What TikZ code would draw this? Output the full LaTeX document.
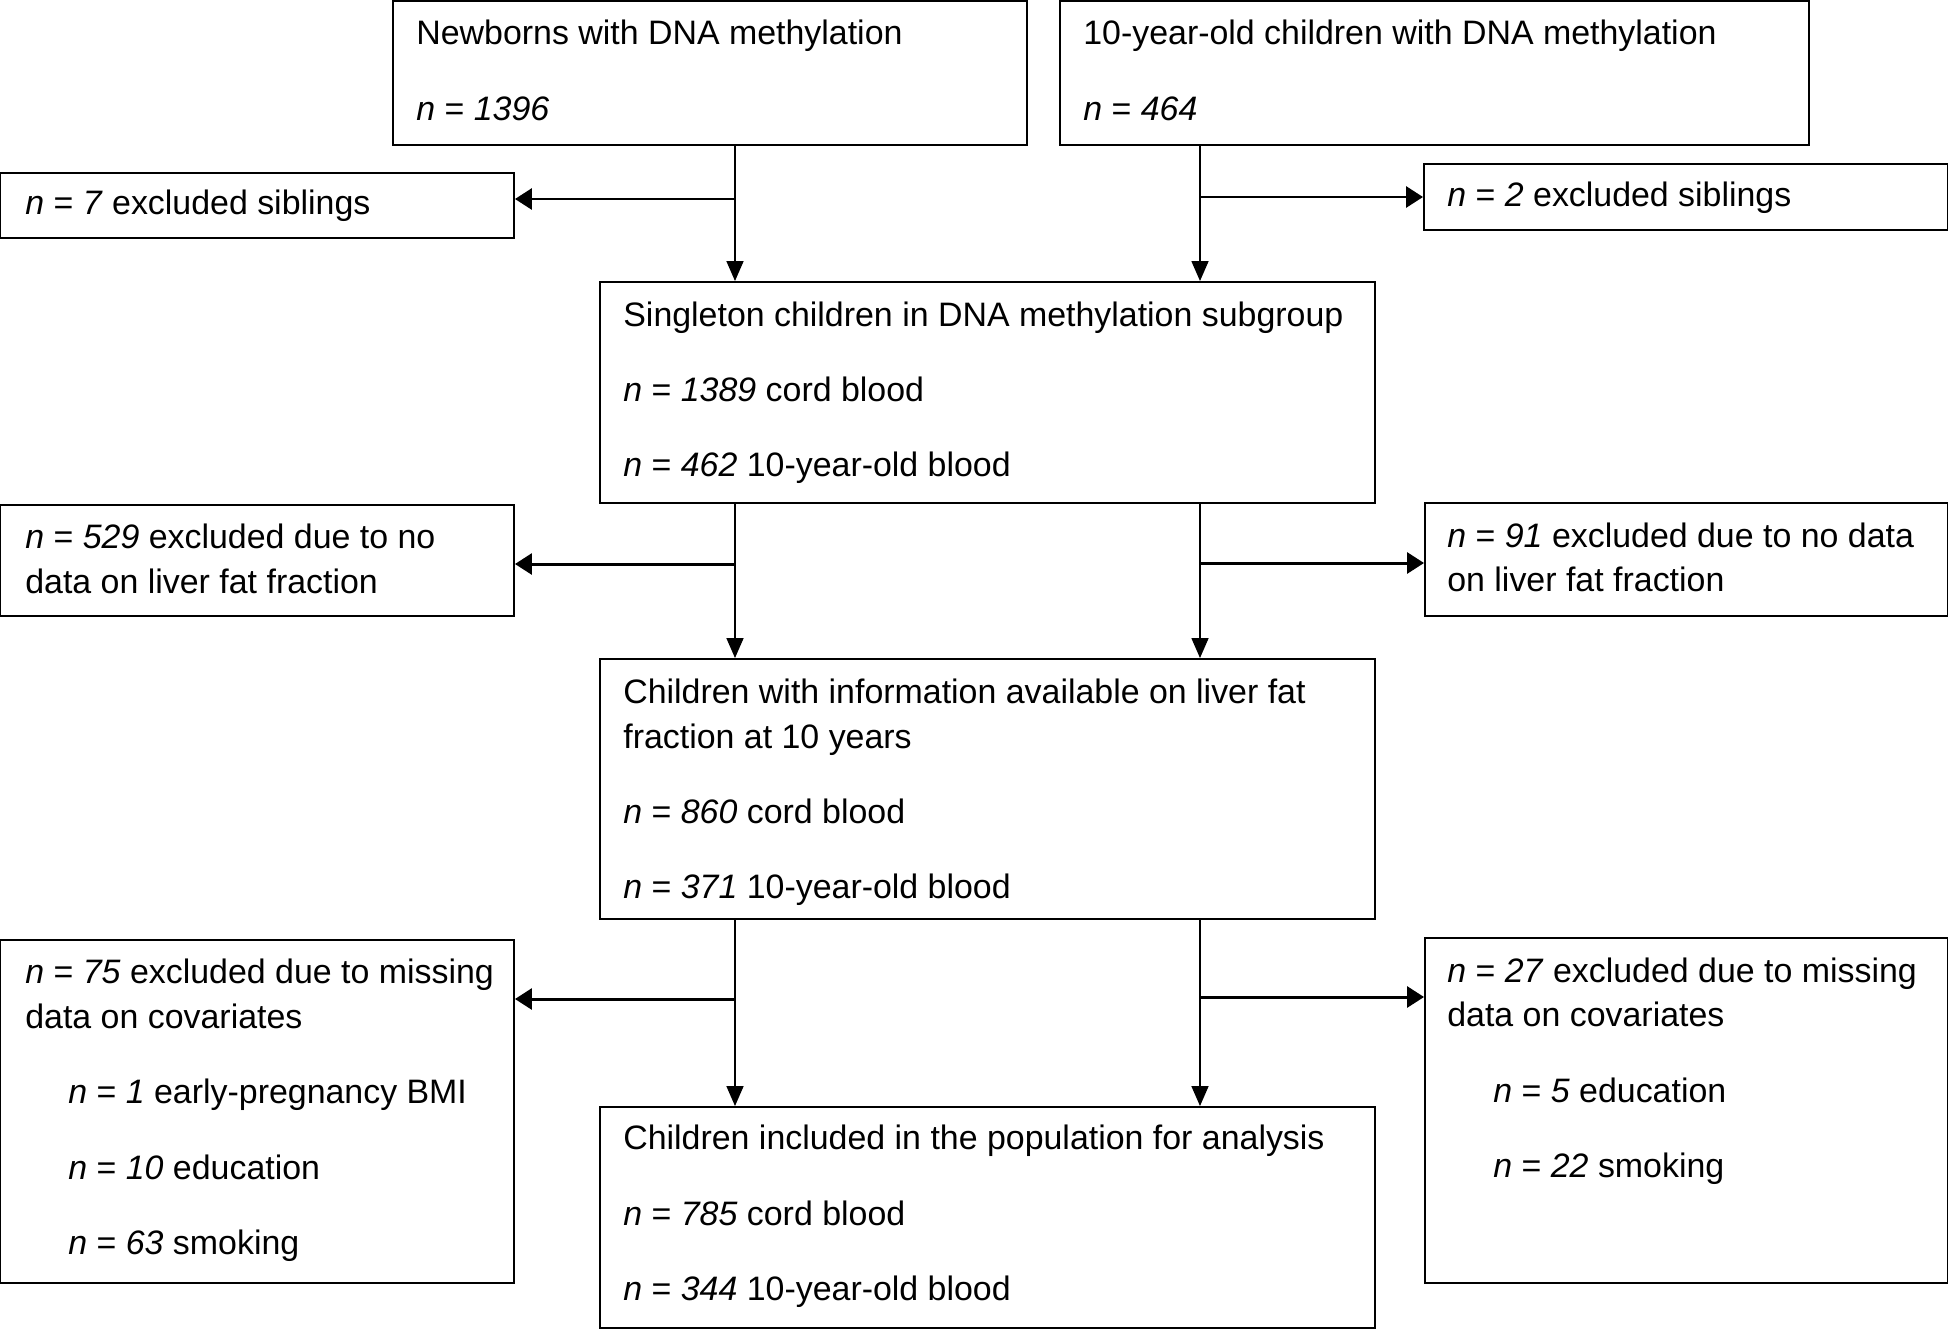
\documentclass[tikz,border=0pt]{standalone}
\usepackage{fontspec}
\setmainfont{Liberation Sans}
\usetikzlibrary{fit,arrows.meta}

\begin{document}
\begin{tikzpicture}
[x=0.02cm,y=-0.02cm,
  boxDecorate/.style={draw,line width=1.1pt,inner sep=0pt},%
  textDecorate/.style={anchor=base west,inner sep=0pt,font=\fontsize{19.3}{23}\selectfont},%
  downDecorate/.style={line width=0.9pt,-{Triangle[length=0.4cm,width=0.34cm]}},%
  sideDecorate/.style={line width=1.7pt,-{Triangle[length=0.34cm,width=0.42cm]}}]
\useasboundingbox (0,0) rectangle (1948,1329);
%% boxes
\foreach \boxname/\xa/\ya/\xb/\yb in {newborn/393/1/1027/145, tenyear/1060/1/1809/145,
  sibL/0/173/514/238, sibR/1424/164/1948/230, single/600/282/1375/503,
  liverL/0/505/514/616, liverR/1425/503/1948/616, info/600/659/1375/919,
  covL/0/940/514/1283, covR/1425/938/1948/1283, final/600/1107/1375/1328} {
  \node (\boxname) [boxDecorate,fit={(\xa,\ya) (\xb,\yb)}] {};
}
%% texts
\foreach \textname/\x/\y/\txt in {
  newbornTitle/416/44/Newborns with DNA methylation,
  newbornN/416/120/\textit{n} = \textit{1396},
  tenyearTitle/1083/44/10-year-old children with DNA methylation,
  tenyearN/1083/120/\textit{n} = \textit{464},
  sibLText/25/214/\textit{n} = \textit{7} excluded siblings,
  sibRText/1447/206/\textit{n} = \textit{2} excluded siblings,
  singleTitle/623/326/Singleton children in DNA methylation subgroup,
  singleCord/623/401/\textit{n} = \textit{1389} cord blood,
  singleTen/623/476/\textit{n} = \textit{462} 10-year-old blood,
  liverLOne/25/548/\textit{n} = \textit{529} excluded due to no,
  liverLTwo/25/593/data on liver fat fraction,
  liverROne/1447/547/\textit{n} = \textit{91} excluded due to no data,
  liverRTwo/1447/591/on liver fat fraction,
  infoOne/623/703/Children with information available on liver fat,
  infoTwo/623/748/fraction at 10 years,
  infoCord/623/823/\textit{n} = \textit{860} cord blood,
  infoTen/623/898/\textit{n} = \textit{371} 10-year-old blood,
  covLOne/25/983/\textit{n} = \textit{75} excluded due to missing,
  covLTwo/25/1028/data on covariates,
  covLBmi/68/1103/\textit{n} = \textit{1} early-pregnancy BMI,
  covLEdu/68/1179/\textit{n} = \textit{10} education,
  covLSmk/68/1254/\textit{n} = \textit{63} smoking,
  covROne/1447/982/\textit{n} = \textit{27} excluded due to missing,
  covRTwo/1447/1026/data on covariates,
  covREdu/1493/1102/\textit{n} = \textit{5} education,
  covRSmk/1493/1177/\textit{n} = \textit{22} smoking,
  finalTitle/623/1149/Children included in the population for analysis,
  finalCord/623/1225/\textit{n} = \textit{785} cord blood,
  finalTen/623/1300/\textit{n} = \textit{344} 10-year-old blood} {
  \node (\textname) at (\x,\y) [textDecorate] {\txt};
}
%% branch points
\coordinate (leftA) at (735,199);
\coordinate (rightA) at (1200,197);
\coordinate (leftB) at (735,564);
\coordinate (rightB) at (1200,563);
\coordinate (leftC) at (735,999);
\coordinate (rightC) at (1200,997);
%% down arrows
\foreach \from/\to/\at in {newborn/single/leftA, tenyear/single/rightA,
  single/info/leftB, single/info/rightB, info/final/leftC, info/final/rightC} {
  \draw[downDecorate] (\from.south -| \at) -- (\to.north -| \at);
}
%% side arrows
\foreach \at/\to/\side in {leftA/sibL/east, rightA/sibR/west,
  leftB/liverL/east, rightB/liverR/west, leftC/covL/east, rightC/covR/west} {
  \draw[sideDecorate] (\at) -- (\at -| \to.\side);
}
\end{tikzpicture}
\end{document}
